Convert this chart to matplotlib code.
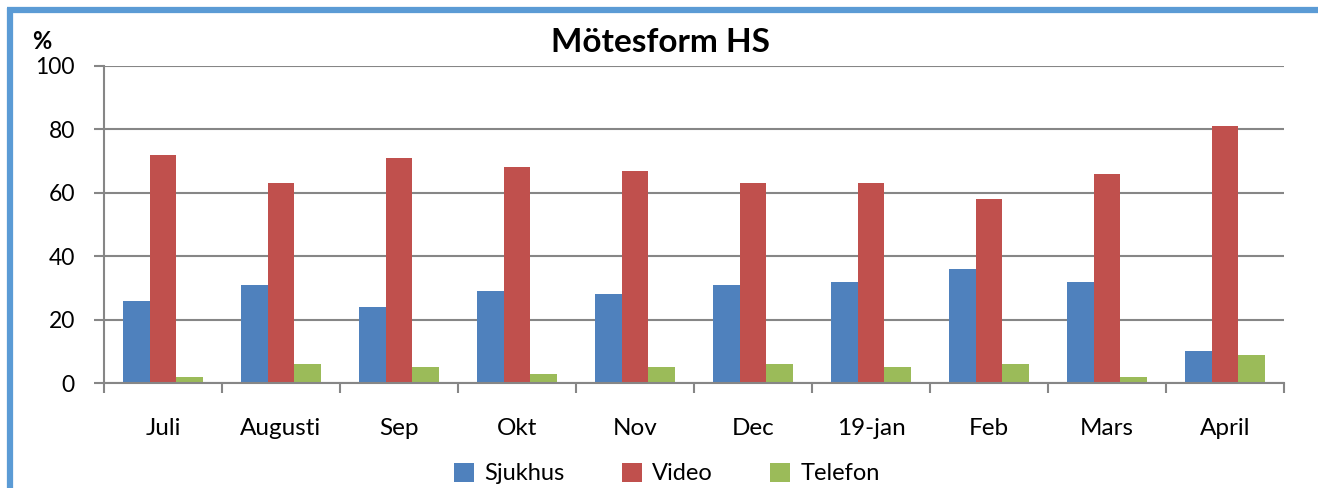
import numpy as np
import matplotlib
matplotlib.use("Agg")
import matplotlib.pyplot as plt
from matplotlib.lines import Line2D

# data
months = ["Juli", "Augusti", "Sep", "Okt", "Nov", "Dec", "19-jan", "Feb", "Mars", "April"]
sjukhus = [26, 31, 24, 29, 28, 31, 32, 36, 32, 10]
video = [72, 63, 71, 68, 67, 63, 63, 58, 66, 81]
telefon = [2, 6, 5, 3, 5, 6, 5, 6, 2, 9]

plt.rcParams['font.family'] = ['Lato', 'DejaVu Sans']

fig = plt.figure(figsize=(13.18, 4.88), dpi=100)
ax = fig.add_axes([0.0789, 0.215, 0.8953, 0.650])

x = np.arange(len(months))
w = 0.225
ax.bar(x - w, sjukhus, width=w, color='#4F81BD', label='Sjukhus', zorder=3)
ax.bar(x, video, width=w, color='#C0504D', label='Video', zorder=3)
ax.bar(x + w, telefon, width=w, color='#9BBB59', label='Telefon', zorder=3)

ax.set_xlim(-0.5, len(months) - 0.5)
ax.set_ylim(0, 100)
ax.set_yticks(range(0, 101, 20))
ax.yaxis.grid(True, color='#868686', linewidth=1.5, zorder=0)

# category boundary ticks on x, labels centred between them
ax.set_xticks(np.arange(-0.5, len(months), 1.0))
ax.set_xticklabels([])
ax.set_xticks(x, minor=True)
ax.set_xticklabels(months, minor=True, fontsize=17.5)
ax.tick_params(axis='x', which='major', length=7, width=1.5, color='#868686', direction='out')
ax.tick_params(axis='x', which='minor', length=0, pad=25)
ax.tick_params(axis='y', length=7, width=1.5, color='#868686', labelsize=16.5, pad=14)

for s in ['top', 'right']:
    ax.spines[s].set_visible(False)
for s in ['left', 'bottom']:
    ax.spines[s].set_color('#868686')
    ax.spines[s].set_linewidth(1.5)
ax.spines['bottom'].set_zorder(4)

fig.text(0.5015, 0.912, "Mötesform HS", ha='center', va='center', fontsize=24, fontweight='bold')
fig.text(0.0315, 0.915, "%", ha='center', va='center', fontsize=17, fontweight='bold')

ax.legend(loc='center', bbox_to_anchor=(0.477, -0.285), ncol=3, frameon=False, fontsize=17,
          handlelength=0.85, handleheight=0.85, handletextpad=0.45, columnspacing=2.4)

# blue frame lines at top and left
fig.add_artist(Line2D([0.0055, 1.0], [0.9795, 0.9795], color='#5B9BD5', linewidth=4.5,
                      transform=fig.transFigure, solid_capstyle='butt'))
fig.add_artist(Line2D([0.0075, 0.0075], [0.0, 0.984], color='#5B9BD5', linewidth=4.5,
                      transform=fig.transFigure, solid_capstyle='butt'))

fig.savefig("out.png", dpi=100)
